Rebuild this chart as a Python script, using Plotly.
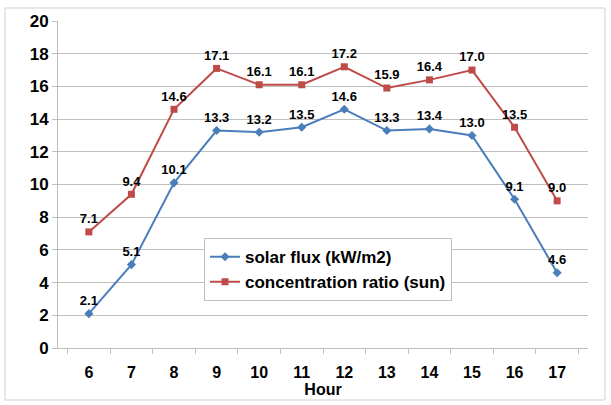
import plotly.graph_objects as go

hours = ["6", "7", "8", "9", "10", "11", "12", "13", "14", "15", "16", "17"]
solar_flux = [2.1, 5.1, 10.1, 13.3, 13.2, 13.5, 14.6, 13.3, 13.4, 13.0, 9.1, 4.6]
conc_ratio = [7.1, 9.4, 14.6, 17.1, 16.1, 16.1, 17.2, 15.9, 16.4, 17.0, 13.5, 9.0]
y_ticks = [0, 2, 4, 6, 8, 10, 12, 14, 16, 18, 20]

FONT = "Liberation Sans"
blue = "#4A7EBB"
red = "#BE4B48"

fig = go.Figure()
fig.add_trace(go.Scatter(
    x=hours, y=solar_flux, mode="lines+markers+text", name="solar flux (kW/m2)",
    line=dict(color=blue, width=2), marker=dict(symbol="diamond", size=7, color=blue),
    text=[f"{v:.1f}" for v in solar_flux], textposition="top center",
    textfont=dict(family=FONT, size=13, color="black", weight="bold"), cliponaxis=False,
))
fig.add_trace(go.Scatter(
    x=hours, y=conc_ratio, mode="lines+markers+text", name="concentration ratio (sun)",
    line=dict(color=red, width=2), marker=dict(symbol="square", size=7, color=red),
    text=[f"{v:.1f}" for v in conc_ratio], textposition="top center",
    textfont=dict(family=FONT, size=13, color="black", weight="bold"), cliponaxis=False,
))

fig.update_layout(
    width=611, height=405,
    margin=dict(l=58, r=23, t=21, b=57),
    paper_bgcolor="white", plot_bgcolor="white",
    font=dict(family=FONT, color="black"),
    showlegend=True,
    legend=dict(
        x=0.2755, y=0.336, xanchor="left", yanchor="top",
        bordercolor="#BFBFBF", borderwidth=1, bgcolor="white",
        font=dict(family=FONT, size=17, color="black", weight="bold"),
        itemwidth=30,
    ),
    xaxis=dict(
        type="category", tickson="boundaries", ticks="outside", ticklen=5,
        tickcolor="#BFBFBF", showline=True, linecolor="#BFBFBF", showgrid=False,
        tickfont=dict(family=FONT, size=16, weight="bold"), ticklabelstandoff=10,
        title=dict(text="Hour", font=dict(family=FONT, size=16, weight="bold"), standoff=0),
    ),
    yaxis=dict(
        range=[0, 20], tickvals=y_ticks, ticks="outside", ticklen=5,
        tickcolor="#BFBFBF", showline=True, linecolor="#BFBFBF",
        gridcolor="#BFBFBF", gridwidth=1, zeroline=False,
        tickfont=dict(family=FONT, size=17, weight="bold"),
    ),
    shapes=[dict(
        type="rect", xref="paper", yref="paper",
        x0=-0.1, x1=1.032, y0=-0.159, y1=1.0398,
        line=dict(color="#D0D0D0", width=1), layer="below",
    )],
)

fig.write_html("out.html")
